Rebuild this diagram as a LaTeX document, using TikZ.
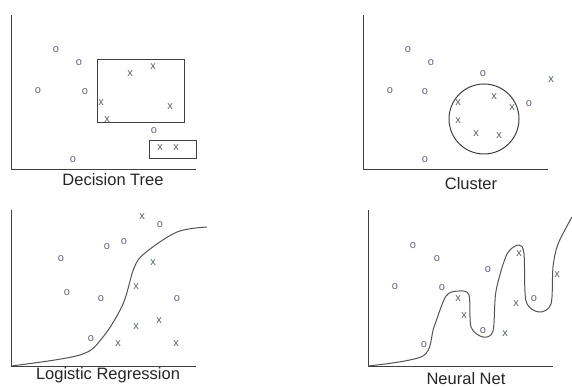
\documentclass[tikz,border=0pt]{standalone}
\usepackage{fontspec}
\setmainfont{Liberation Sans}
\definecolor{ocol}{RGB}{112,92,140}
\definecolor{xcol}{RGB}{84,98,98}
\definecolor{lcol}{RGB}{64,64,64}
\begin{document}
\begin{tikzpicture}[x=1pt,y=-1pt,
  omark/.style={inner sep=0pt,text=ocol,font=\fontsize{11}{11}\selectfont},
  xmark/.style={inner sep=0pt,text=xcol,font=\fontsize{11}{11}\selectfont},
  axis/.style={draw=lcol,line width=1pt},
  shapeline/.style={draw=lcol,line width=1pt},
  curveline/.style={draw=lcol!90,line width=1pt},
  title/.style={inner sep=0pt,text=black!85,font=\fontsize{16.5}{16.5}\selectfont}]
\useasboundingbox (0,0) rectangle (572,387);
\clip (0,0) rectangle (572,387);
% ---------- Decision Tree ----------
\coordinate (a1t) at (11,15);
\coordinate (a1o) at (11,170);
\coordinate (a1r) at (196,170);
\draw[axis] (a1t) -- (a1o) -- (a1r);
\draw[shapeline] (97,60) rectangle (184,123);
\draw[shapeline] (149,141) rectangle (196,159);
\node[omark] (d1) at (56,50) {o};
\node[omark] (d2) at (79,63) {o};
\node[omark] (d3) at (38,91) {o};
\node[omark] (d4) at (85,92) {o};
\node[omark] (d5) at (154,131) {o};
\node[omark] (d6) at (73,160) {o};
\node[xmark] (dx1) at (130,74) {x};
\node[xmark] (dx2) at (153,67) {x};
\node[xmark] (dx3) at (101,103) {x};
\node[xmark] (dx4) at (170,107) {x};
\node[xmark] (dx5) at (107,120) {x};
\node[xmark] (dx6) at (160,148) {x};
\node[xmark] (dx7) at (176,148) {x};
\node[title] (t1) at (113,180) {Decision Tree};
% ---------- Cluster ----------
\coordinate (a2t) at (363,15);
\coordinate (a2o) at (363,170);
\coordinate (a2r) at (548,170);
\draw[axis] (a2t) -- (a2o) -- (a2r);
\draw[shapeline] (484,119) circle (35);
\node[omark] (c1) at (408,50) {o};
\node[omark] (c2) at (431,63) {o};
\node[omark] (c3) at (390,91) {o};
\node[omark] (c4) at (425,92) {o};
\node[omark] (c5) at (483,74) {o};
\node[omark] (c6) at (529,104) {o};
\node[omark] (c7) at (425,160) {o};
\node[xmark] (cx1) at (458,103) {x};
\node[xmark] (cx2) at (494,97) {x};
\node[xmark] (cx3) at (512,108) {x};
\node[xmark] (cx4) at (458,121) {x};
\node[xmark] (cx5) at (476,134) {x};
\node[xmark] (cx6) at (499,136) {x};
\node[xmark] (cx7) at (551,80) {x};
\node[title] (t2) at (471,184) {Cluster};
% ---------- Logistic Regression ----------
\coordinate (a3t) at (11,210);
\coordinate (a3o) at (11,366);
\coordinate (a3r) at (196,366);
\draw[axis] (a3t) -- (a3o) -- (a3r);
\draw[curveline] plot[smooth,tension=0.55] coordinates {(11,366) (80,355) (103,337) (123,304) (134,268) (145,253) (177,232) (207,227)};
\node[omark] (l1) at (160,225) {o};
\node[omark] (l2) at (107,247) {o};
\node[omark] (l3) at (124,242) {o};
\node[omark] (l4) at (61,259) {o};
\node[omark] (l5) at (67,293) {o};
\node[omark] (l6) at (101,299) {o};
\node[omark] (l7) at (177,299) {o};
\node[omark] (l8) at (91,339) {o};
\node[xmark] (lx1) at (142,217) {x};
\node[xmark] (lx2) at (153,263) {x};
\node[xmark] (lx3) at (136,287) {x};
\node[xmark] (lx4) at (136,327) {x};
\node[xmark] (lx5) at (159,321) {x};
\node[xmark] (lx6) at (118,344) {x};
\node[xmark] (lx7) at (176,344) {x};
\node[title] (t3) at (108,375) {Logistic Regression};
% ---------- Neural Net ----------
\coordinate (a4t) at (368,210);
\coordinate (a4o) at (368,366);
\coordinate (a4r) at (553,366);
\draw[axis] (a4t) -- (a4o) -- (a4r);
\draw[curveline] plot[smooth,tension=0.5] coordinates {(368,366) (423,356) (434,327) (446,296) (459,291) (469,295) (471,327) (483,337) (493,331) (496,291) (507,254) (519,245) (524,254) (526,301) (539,312) (551,304) (553,267) (558,244) (572,217)};
\node[omark] (n1) at (413,246) {o};
\node[omark] (n2) at (437,259) {o};
\node[omark] (n3) at (395,287) {o};
\node[omark] (n4) at (442,288) {o};
\node[omark] (n5) at (488,270) {o};
\node[omark] (n6) at (483,331) {o};
\node[omark] (n7) at (534,299) {o};
\node[omark] (n8) at (424,345) {o};
\node[xmark] (nx1) at (458,299) {x};
\node[xmark] (nx2) at (464,316) {x};
\node[xmark] (nx3) at (519,254) {x};
\node[xmark] (nx4) at (516,304) {x};
\node[xmark] (nx5) at (505,334) {x};
\node[xmark] (nx6) at (557,275) {x};
\node[title] (t4) at (466,379) {Neural Net};
\end{tikzpicture}
\end{document}
